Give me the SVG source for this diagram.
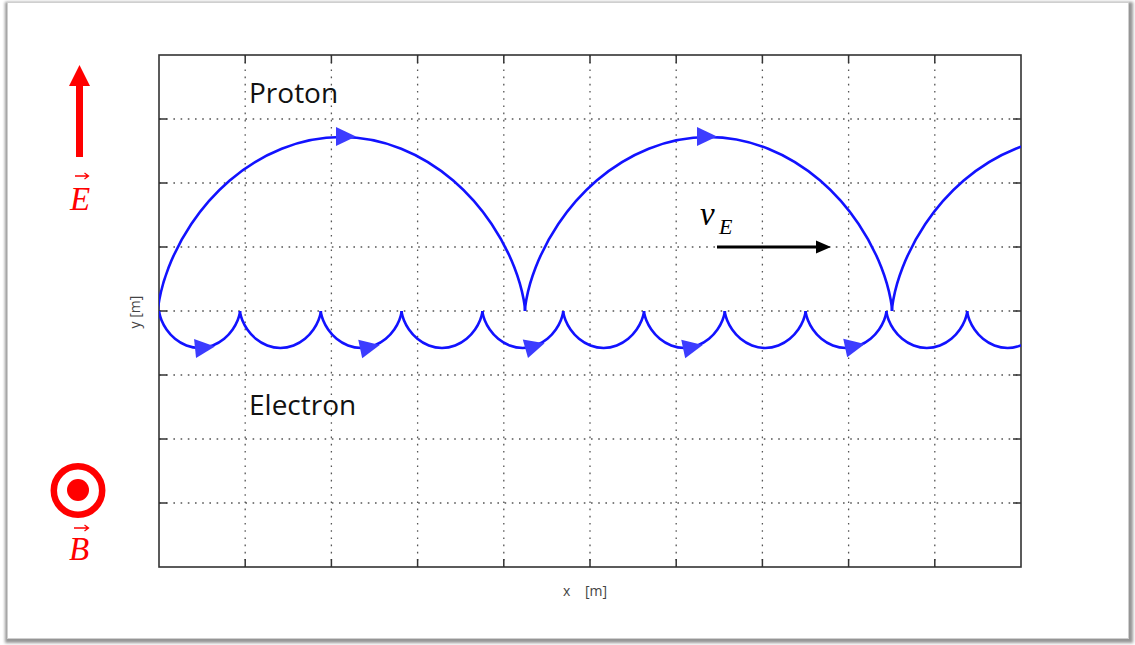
<svg xmlns="http://www.w3.org/2000/svg" xmlns:xlink="http://www.w3.org/1999/xlink" width="1135" height="645" viewBox="0 0 1135 645">
<style>
.grid{stroke:#555;stroke-width:1.3;stroke-dasharray:1.6 5.6;fill:none}
.tick{stroke:#333;stroke-width:1.5}
.traj{fill:none;stroke:#1212ff;stroke-width:2.6;stroke-linejoin:round}
.head{fill:#3c3cff}
.lbl{font-family:"Open Sans","Noto Sans",sans-serif;fill:#111}
.ax{font-family:"Open Sans","Noto Sans",sans-serif;font-size:14px;fill:#444}
.red{fill:#ff0000}
.math{font-family:"Liberation Serif","DejaVu Serif",serif;font-style:italic}
</style>
<defs>
<filter id="sh" x="-5%" y="-5%" width="110%" height="110%"><feGaussianBlur stdDeviation="1.6"/></filter>
<clipPath id="plot"><rect x="159" y="55" width="862" height="512"/></clipPath>
<path id="parch" d="M0,311 C0,311 0.03,306.9 1.4,299.3 C2.77,291.7 5.5,280.65 10.6,267.5 C15.7,254.35 23.1,239.18 33.3,224 C43.5,208.8 56.4,193.65 71.7,180.5 C87,167.35 104.7,156.3 123.7,148.7 C142.7,141.1 163.1,137 183.5,137 C203.9,137 224.2,141.1 243.2,148.7 C262.2,156.3 279.9,167.35 295.2,180.5 C310.5,193.65 323.4,208.8 333.6,224 C343.8,239.18 351.3,254.35 356.4,267.5 C361.5,280.65 364.2,291.7 365.6,299.3 C366.97,306.9 367,311 367,311"/>
<path id="earc" d="M0,311 C0,311 0,311.9 0.3,313.5 C0.6,315.1 1.21,317.5 2.33,320.3 C3.45,323.1 5.1,326.27 7.34,329.5 C9.58,332.73 12.43,336 15.8,338.8 C19.17,341.6 23.05,343.9 27.24,345.5 C31.43,347.1 35.9,348 40.4,348 C44.9,348 49.37,347.1 53.56,345.5 C57.75,343.9 61.63,341.6 65,338.8 C68.37,336 71.22,332.73 73.46,329.5 C75.7,326.27 77.35,323.1 78.47,320.3 C79.59,317.5 80.2,315.1 80.5,313.5 C80.8,311.9 80.8,311 80.8,311"/>
<polygon id="tri" points="-10,-9.5 10,0 -10,9.5"/>
</defs>
<rect x="0" y="0" width="1135" height="645" fill="#fff"/>
<g id="frame">
<rect x="5" y="2" width="1128" height="641" fill="#959595" filter="url(#sh)"/>
<rect x="7.5" y="2.5" width="1121" height="636" fill="#fff" stroke="#cfcfcf" stroke-width="1"/>
</g>
<g id="plot-grid">
<path class="grid" d="M245.2,55V567M331.4,55V567M417.6,55V567M503.8,55V567M590,55V567M676.2,55V567M762.4,55V567M848.6,55V567M934.8,55V567M159,119H1021M159,183H1021M159,247H1021M159,311H1021M159,375H1021M159,439H1021M159,503H1021"/>
<path class="tick" d="M245.2,55v8M331.4,55v8M417.6,55v8M503.8,55v8M590,55v8M676.2,55v8M762.4,55v8M848.6,55v8M934.8,55v8M245.2,567v-8M331.4,567v-8M417.6,567v-8M503.8,567v-8M590,567v-8M676.2,567v-8M762.4,567v-8M848.6,567v-8M934.8,567v-8M159,119h8M159,183h8M159,247h8M159,311h8M159,375h8M159,439h8M159,503h8M1021,119h-8M1021,183h-8M1021,247h-8M1021,311h-8M1021,375h-8M1021,439h-8M1021,503h-8"/>
<rect x="159" y="55" width="862" height="512" fill="none" stroke="#333" stroke-width="1.6"/>
</g>
<g id="trajectories" clip-path="url(#plot)">
<use xlink:href="#parch" x="158" class="traj"/>
<use xlink:href="#parch" x="525" class="traj"/>
<use xlink:href="#parch" x="892" class="traj"/>
<use xlink:href="#earc" x="159.2" class="traj"/>
<use xlink:href="#earc" x="240" class="traj"/>
<use xlink:href="#earc" x="320.8" class="traj"/>
<use xlink:href="#earc" x="401.6" class="traj"/>
<use xlink:href="#earc" x="482.4" class="traj"/>
<use xlink:href="#earc" x="563.2" class="traj"/>
<use xlink:href="#earc" x="644" class="traj"/>
<use xlink:href="#earc" x="724.8" class="traj"/>
<use xlink:href="#earc" x="805.6" class="traj"/>
<use xlink:href="#earc" x="886.4" class="traj"/>
<use xlink:href="#earc" x="967.2" class="traj"/>
</g>
<g id="direction-arrows" class="head">
<use xlink:href="#tri" transform="translate(346,136.5)"/>
<use xlink:href="#tri" transform="translate(707,136.5)"/>
<use xlink:href="#tri" transform="translate(205,347.5) rotate(-6)"/>
<use xlink:href="#tri" transform="translate(370,347) rotate(-12)"/>
<use xlink:href="#tri" transform="translate(535,346) rotate(-16)"/>
<use xlink:href="#tri" transform="translate(693,347) rotate(-12)"/>
<use xlink:href="#tri" transform="translate(855,346) rotate(-12)"/>
</g>
<g id="labels">
<text class="lbl" x="249" y="103" font-size="28">Proton</text>
<text class="lbl" x="249" y="415" font-size="28">Electron</text>
<text class="ax" x="563" y="596">x</text>
<text class="ax" x="585" y="596">[m]</text>
<text class="ax" transform="translate(140,312) rotate(-90)" text-anchor="middle">y  [m]</text>
</g>
<g id="vE">
<text class="math" x="700" y="225" font-size="33">v</text>
<text class="math" x="719" y="234" font-size="22">E</text>
<path d="M717,247H818" stroke="#000" stroke-width="3"/>
<polygon points="816,240.5 831,247 816,253.5" fill="#000"/>
</g>
<g id="E-field">
<path d="M79.5,157V83" stroke="#ff0000" stroke-width="7"/>
<polygon class="red" points="69,86 79.5,65 90,86"/>
<text class="math red" x="70" y="210" font-size="33">E</text>
<path d="M75,176H88M84.5,173L88.5,176L84.5,179" stroke="#ff0000" stroke-width="1.3" fill="none"/>
</g>
<g id="B-field">
<circle cx="78" cy="490.5" r="24.2" fill="none" stroke="#ff0000" stroke-width="6.5"/>
<circle class="red" cx="78" cy="490" r="11"/>
<text class="math red" x="69" y="560" font-size="33">B</text>
<path d="M74,528H88M84.5,525L88.5,528L84.5,531" stroke="#ff0000" stroke-width="1.3" fill="none"/>
</g>
</svg>
